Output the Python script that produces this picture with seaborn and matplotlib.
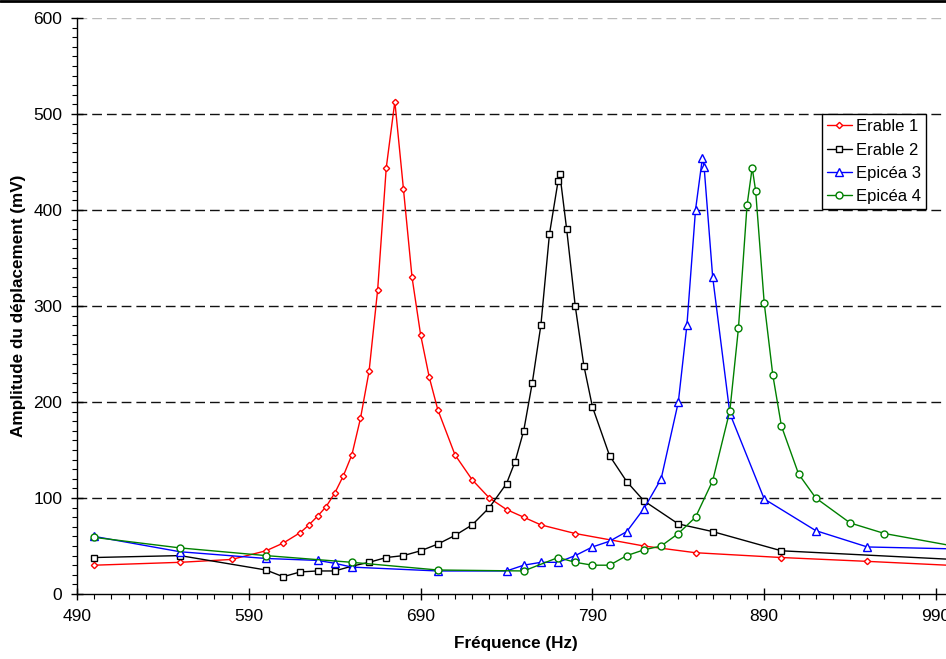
import numpy as np
import pandas as pd
import matplotlib
matplotlib.use("Agg")
import matplotlib.pyplot as plt
from matplotlib.lines import Line2D
from matplotlib.ticker import MultipleLocator
import seaborn as sns

# Frequency response of four wood samples
erable1_f = [500, 550, 580, 600, 610, 620, 625, 630, 635, 640, 645, 650, 655, 660, 665, 670,
             675, 680, 685, 690, 695, 700, 710, 720, 730, 740, 750, 760, 780, 820, 850, 900,
             950, 1000]
erable1_a = [30, 33, 36, 45, 53, 64, 72, 81, 91, 105, 123, 145, 183, 232, 317, 444,
             513, 422, 330, 270, 226, 192, 145, 119, 100, 88, 80, 72, 63, 50, 43, 38,
             34, 29.7]

erable2_f = [500, 550, 600, 610, 620, 630, 640, 650, 660, 670, 680, 690, 700, 710, 720, 730,
             740, 745, 750, 755, 760, 765, 770, 771, 775, 780, 785, 790, 800, 810, 820, 840,
             860, 900, 1000]
erable2_a = [38, 40, 25, 18, 23, 24, 24, 29, 33, 38, 40, 45, 52, 61, 72, 90,
             115, 138, 170, 220, 280, 375, 430, 438, 380, 300, 238, 195, 144, 117, 97, 73,
             65, 45, 36]

epicea3_f = [500, 550, 600, 630, 640, 650, 700, 740, 750, 760, 770, 780, 790, 800, 810, 820,
             830, 840, 845, 850, 854, 855, 860, 870, 890, 920, 950, 1000]
epicea3_a = [60, 44, 37, 35, 32, 28, 24, 24, 30, 33, 33, 40, 49, 55, 65, 89,
             120, 200, 280, 400, 454, 445, 330, 188, 99, 66, 49, 47]

epicea4_f = [500, 550, 600, 650, 700, 750, 770, 780, 790, 800, 810, 820, 830, 840, 850, 860,
             870, 875, 880, 883, 885, 890, 895, 900, 910, 920, 940, 960, 1000]
epicea4_a = [59, 48, 40, 33, 25, 24, 38, 33, 30, 30, 40, 46, 50, 63, 80, 118,
             191, 277, 405, 444, 420, 303, 228, 175, 125, 100, 74, 63, 50]

series = [
    ("Erable 1", erable1_f, erable1_a, "#ff0000", "D", 3.2),
    ("Erable 2", erable2_f, erable2_a, "#000000", "s", 4.6),
    ("Epicéa 3", epicea3_f, epicea3_a, "#0000ff", "^", 5.2),
    ("Epicéa 4", epicea4_f, epicea4_a, "#008000", "o", 5.0),
]

sns.set_style("ticks")
plt.rcParams["font.family"] = ["Liberation Sans", "DejaVu Sans"]
plt.rcParams["text.color"] = "black"
plt.rcParams["axes.labelcolor"] = "black"

fig = plt.figure(figsize=(9.46, 6.59), dpi=100)
ax = fig.add_axes([77 / 946, 1 - 594 / 659, 1 - 77 / 946, (594 - 18) / 659])

for name, f, a, col, mk, ms in series:
    df = pd.DataFrame({"Fréquence": f, "Amplitude": a})
    sns.lineplot(data=df, x="Fréquence", y="Amplitude", ax=ax, color=col, marker=mk,
                 markersize=ms, markerfacecolor="white", markeredgecolor=col,
                 markeredgewidth=1.0, linewidth=1.0, label=name)

ax.set_xlim(490, 995.8)
ax.set_ylim(0, 600)
ax.set_xticks(np.arange(490, 991, 100))
ax.set_yticks(np.arange(0, 601, 100))
ax.xaxis.set_minor_locator(MultipleLocator(10))
ax.yaxis.set_minor_locator(MultipleLocator(10))
ax.tick_params(which="major", direction="inout", length=8, width=1, labelsize=12.5,
               pad=6.5, colors="black")
ax.tick_params(which="minor", direction="out", length=3.6, width=0.8, colors="black")

for s in ["top", "right"]:
    ax.spines[s].set_visible(False)
for s in ["left", "bottom"]:
    ax.spines[s].set_linewidth(1)
    ax.spines[s].set_color("black")

# dashed horizontal grid
for yv in range(100, 601, 100):
    ax.axhline(yv, color="#bbbbbb" if yv == 600 else "#111111", linewidth=1,
               linestyle=(0, (7, 3.6)), zorder=0)

ax.set_xlabel("Fréquence (Hz)", fontsize=12.3, fontweight="bold", color="black")
ax.set_ylabel("Amplitude du déplacement (mV)", fontsize=12.3, fontweight="bold",
              color="black")
ax.xaxis.set_label_coords(0.505, -0.073)
ax.yaxis.set_label_coords(-0.059, 0.5)

leg = ax.legend(loc="upper left", bbox_to_anchor=(821.7 / 946, 1 - 114.3 / 659),
                bbox_transform=fig.transFigure, borderaxespad=0, frameon=True,
                fancybox=False, edgecolor="black", framealpha=1, fontsize=12,
                handlelength=1.5, handletextpad=0.25, labelspacing=0.5, borderpad=0.3)
leg.get_frame().set_linewidth(1)
for t in leg.get_texts():
    t.set_color("black")

# top border of the chart area
fig.add_artist(Line2D([0, 1], [1 - 1 / 659, 1 - 1 / 659], color="black", linewidth=2,
                      transform=fig.transFigure))

fig.savefig("out.png", dpi=100)
